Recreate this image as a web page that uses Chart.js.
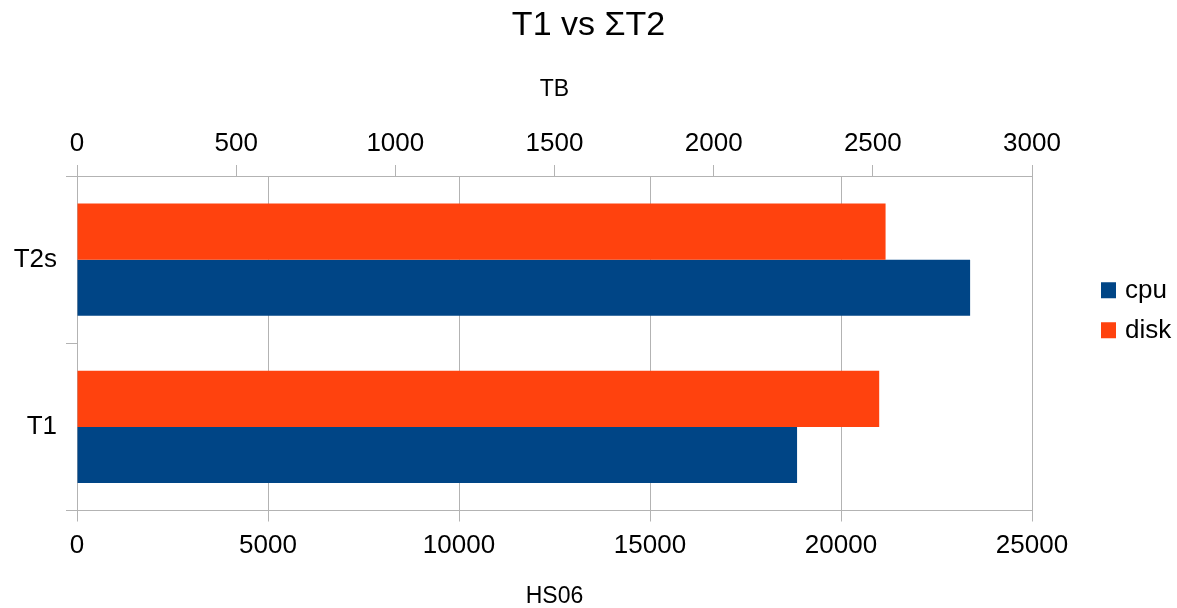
<!DOCTYPE html>
<html>
<head>
<meta charset="utf-8">
<script src="https://cdn.jsdelivr.net/npm/chart.js@4/dist/chart.umd.min.js"></script>
<style>
  html, body { margin: 0; padding: 0; background: #ffffff; }
  #wrap { width: 1177px; height: 608px; }
</style>
</head>
<body>
<div id="wrap"><canvas id="c" width="1177" height="608"></canvas></div>
<script>
// Site groups shown on the category axis (top to bottom)
const categories = ['T2s', 'T1'];
// CPU capacity in HS06 (bottom axis)
const cpuHS06 = [23380, 18850];
// Disk capacity in TB (top axis)
const diskTB = [2540, 2520];
// Axis tick ranges
const hs06Ticks = { min: 0, max: 25000, step: 5000 };
const tbTicks = { min: 0, max: 3000, step: 500 };

const FONT = "'Liberation Sans', Arial, sans-serif";
const GRID = '#b3b3b3';
const CPU_COLOR = '#004586';
const DISK_COLOR = '#ff420e';

// Legend as its own layout box on the right of the plot, cpu listed first
const sideLegend = {
  id: 'sideLegend',
  beforeInit(chart) {
    const box = {
      position: 'right',
      weight: 1000,
      fullSize: false,
      options: { stackWeight: 1 },
      isHorizontal() { return false; },
      getPadding() { return { left: 0, right: 0, top: 0, bottom: 0 }; },
      update(maxWidth, maxHeight) {
        this.width = 145;
        this.height = maxHeight;
      },
      draw() {
        const ctx = chart.ctx;
        const area = chart.chartArea;
        const order = ['cpu', 'disk'];
        const x = area.right + 69;
        const midY = (area.top + area.bottom) / 2 - 33;
        ctx.save();
        ctx.font = '26px ' + FONT;
        ctx.textBaseline = 'middle';
        ctx.textAlign = 'left';
        order.forEach((name, i) => {
          const ds = chart.data.datasets.find(d => d.label === name);
          const cy = midY + (i - 0.5) * 40;
          ctx.fillStyle = ds.backgroundColor;
          ctx.fillRect(x, cy - 8, 15, 16);
          ctx.fillStyle = '#000000';
          ctx.fillText(name, x + 24, cy + 1);
        });
        ctx.restore();
      }
    };
    Chart.layouts.addBox(chart, box);
  }
};

const plainNumber = v => String(v);

new Chart(document.getElementById('c'), {
  type: 'bar',
  data: {
    labels: categories,
    datasets: [
      { label: 'disk', data: diskTB, xAxisID: 'x2', backgroundColor: DISK_COLOR,
        categoryPercentage: 0.67, barPercentage: 1.0 },
      { label: 'cpu', data: cpuHS06, xAxisID: 'x', backgroundColor: CPU_COLOR,
        categoryPercentage: 0.67, barPercentage: 1.0 }
    ]
  },
  options: {
    indexAxis: 'y',
    responsive: false,
    animation: false,
    layout: { padding: 0 },
    plugins: {
      legend: { display: false },
      tooltip: { enabled: false },
      title: {
        display: true,
        text: 'T1 vs ΣT2',
        color: '#000000',
        font: { family: FONT, size: 34, weight: 'normal', lineHeight: 1.2 },
        padding: { top: 5, bottom: 0 }
      }
    },
    scales: {
      x: {
        position: 'bottom',
        min: hs06Ticks.min, max: hs06Ticks.max,
        afterFit(s) { s.height = 97.5; },
        ticks: { stepSize: hs06Ticks.step, color: '#000000', padding: 9,
                 font: { family: FONT, size: 26 }, callback: plainNumber },
        grid: { color: GRID, lineWidth: 1, tickLength: 11, drawOnChartArea: true },
        border: { color: GRID, width: 1 },
        title: { display: true, text: 'HS06', color: '#000000',
                 font: { family: FONT, size: 23, lineHeight: 1 }, padding: { top: 0, bottom: 0 } }
      },
      x2: {
        position: 'top',
        min: tbTicks.min, max: tbTicks.max,
        afterFit(s) { s.height = 130.2; },
        ticks: { stepSize: tbTicks.step, color: '#000000', padding: 6,
                 font: { family: FONT, size: 26 }, callback: plainNumber },
        grid: { color: GRID, lineWidth: 1, tickLength: 11, drawOnChartArea: false },
        border: { color: GRID, width: 1 },
        title: { display: true, text: 'TB', color: '#000000',
                 font: { family: FONT, size: 23, lineHeight: 1 }, padding: { top: 32.7, bottom: 0 } }
      },
      y: {
        position: 'left',
        afterFit(s) { s.width = 77; },
        ticks: { color: '#000000', padding: 9, font: { family: FONT, size: 26 } },
        grid: { color: GRID, lineWidth: 1, tickLength: 11, offset: true, drawOnChartArea: false },
        border: { color: GRID, width: 1 }
      }
    }
  },
  plugins: [sideLegend]
});
</script>
</body>
</html>
